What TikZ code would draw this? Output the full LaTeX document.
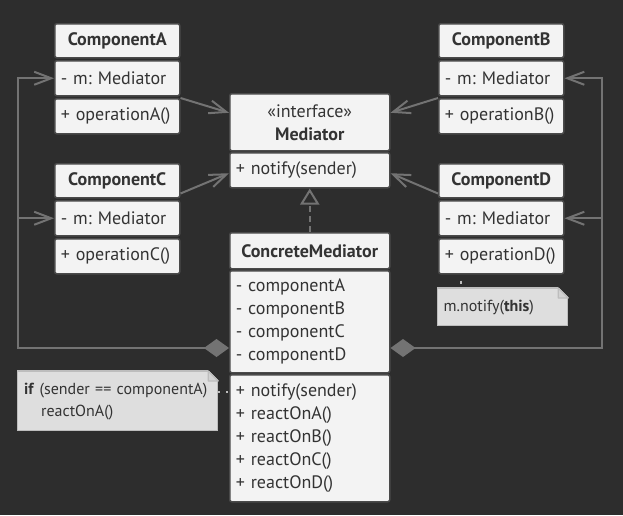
\documentclass[tikz,border=0pt]{standalone}
\usepackage{fontspec}
\setmainfont{PT Sans}
\frenchspacing
\usetikzlibrary{arrows.meta,calc}
\definecolor{bg}{HTML}{2D2D2D}
\definecolor{boxfill}{HTML}{F3F3F3}
\definecolor{boxline}{HTML}{4A4A4A}
\definecolor{wire}{HTML}{737373}
\definecolor{ink}{HTML}{333333}
\definecolor{notefill}{HTML}{DEDEDE}
\definecolor{noteline}{HTML}{BDBDBD}
\definecolor{foldfill}{HTML}{D2D2D2}

\begin{document}
\begin{tikzpicture}[x=1pt,y=-1pt,
  nobreak/.style={execute at begin node={\hyphenpenalty=10000\exhyphenpenalty=10000\hbadness=10000\hfuzz=50pt}},
  cls/.style={nobreak, draw=boxline, fill=boxfill, rounded corners=2pt, line width=1.5pt,
    anchor=north west, inner xsep=6pt, inner ysep=0pt, text=ink,
    font=\fontsize{18}{23}\selectfont},
  head/.style={cls, font=\fontsize{18}{23}\selectfont\bfseries, align=center},
  row/.style={cls, align=left},
  compw/.style={text width=113pt},
  medw/.style={text width=148pt},
  note/.style={nobreak, draw=noteline, fill=notefill, line width=1.2pt, anchor=north west,
    inner xsep=6pt, inner ysep=0pt, text=ink, align=left,
    font=\fontsize{16}{22}\selectfont},
  wire/.style={draw=wire, line width=2pt},
  assoc/.style={wire, -{Straight Barb[length=17pt,width=13pt]}},
  comp/.style={wire, {Diamond[length=25pt,width=18pt,fill=wire]}-{Straight Barb[length=17pt,width=13pt]}},
  realize/.style={wire, dash pattern=on 6pt off 4pt,
    -{Triangle[open,length=16pt,width=19pt,fill=bg]}},
  dots/.style={draw=noteline, line width=2pt, dash pattern=on 2pt off 6pt},
]
\fill[bg] (0,0) rectangle (623,515);
\useasboundingbox (0,0) rectangle (623,515);

% colleague components
\node[head, compw, minimum height=34pt] (ahead) at (54,23)  {ComponentA};
\node[row,  compw, minimum height=35pt] (aattr) at (54,60)  {- m: Mediator};
\node[row,  compw, minimum height=35pt] (aop)   at (54,98)  {+ operationA()};

\node[head, compw, minimum height=34pt] (bhead) at (438,23) {ComponentB};
\node[row,  compw, minimum height=35pt] (battr) at (438,60) {- m: Mediator};
\node[row,  compw, minimum height=35pt] (bop)   at (438,98) {+ operationB()};

\node[head, compw, minimum height=34pt] (chead) at (54,163)  {ComponentC};
\node[row,  compw, minimum height=35pt] (cattr) at (54,200)  {- m: Mediator};
\node[row,  compw, minimum height=35pt] (cop)   at (54,238)  {+ operationC()};

\node[head, compw, minimum height=34pt] (dhead) at (438,163) {ComponentD};
\node[row,  compw, minimum height=35pt] (dattr) at (438,200) {- m: Mediator};
\node[row,  compw, minimum height=35pt] (dop)   at (438,238) {+ operationD()};

% mediator interface
\node[head, medw, minimum height=57pt] (mhead) at (229,93) {\textmd{«interface»}\\Mediator};
\node[row,  medw, minimum height=35pt] (mnot)  at (229,152) {+ notify(sender)};

% concrete mediator
\node[head, medw, minimum height=36pt]  (cmhead) at (229,232) {ConcreteMediator};
\node[row,  medw, minimum height=102pt] (cmattr) at (229,270)
  {- componentA\\- componentB\\- componentC\\- componentD};
\node[row,  medw, minimum height=127pt] (cmop)   at (229,374)
  {+ notify(sender)\\+ reactOnA()\\+ reactOnB()\\+ reactOnC()\\+ reactOnD()};

% notes
\node[note, text width=118pt, minimum height=37pt] (nd) at (437,288)
  {m.notify(\textbf{this})};
\node[note, text width=187pt, minimum height=59pt, inner xsep=6.5pt] (nl) at (17,371)
  {\textbf{if} (sender == componentA)\\\hspace*{17pt}reactOnA()};
\foreach \n in {nd,nl}{
  \fill[bg] ($(\n.north east)+(-10,-1)$) -- ($(\n.north east)+(1,-1)$) -- ($(\n.north east)+(1,10)$) -- cycle;
  \filldraw[fill=foldfill, draw=noteline, line width=1.2pt, line join=round]
    ($(\n.north east)+(-10,0)$) -- ($(\n.north east)+(0,10)$) -- ($(\n.north east)+(-10,10)$) -- cycle;
  \draw[noteline, line width=1.2pt] ($(\n.north east)+(-10,0)$) -- ($(\n.north east)+(0,10)$);
}
\draw[noteline, line width=1.2pt] (nd.north west) -- ($(nd.north east)+(-10,0)$);
\draw[noteline, line width=1.2pt] (nl.north west) -- ($(nl.north east)+(-10,0)$);

% note anchors
\draw[dots, dash pattern=on 3pt off 20pt, dash phase=-6pt]
  ([xshift=-40pt]dop.south) -- ([xshift=-40pt]dop.south |- nd.north);
\draw[dots] ([yshift=9.5pt]nl.east) -- ([yshift=9.5pt]nl.east -| cmop.west);

% colleagues reference the mediator
\draw[assoc] (aop.north east) -- ([yshift=9.5pt]mhead.west);
\draw[assoc] (bop.north west) -- ([yshift=9.5pt]mhead.east);
\draw[assoc] ([yshift=5pt]chead.south east) -- ([yshift=-3pt]mnot.west);
\draw[assoc] ([yshift=5pt]dhead.south west) -- ([yshift=-3pt]mnot.east);

% realization
\draw[realize] (cmhead.north) -- (mnot.south);

% composition buses
\coordinate (lb) at (18,348);
\coordinate (rb) at (602,348);
\draw[comp] (lb -| cmattr.west) -- (lb) |- (aattr.west);
\draw[assoc] (lb |- cattr.west) -- (cattr.west);
\draw[comp] (rb -| cmattr.east) -- (rb) |- (battr.east);
\draw[assoc] (rb |- dattr.east) -- (dattr.east);
\end{tikzpicture}
\end{document}
